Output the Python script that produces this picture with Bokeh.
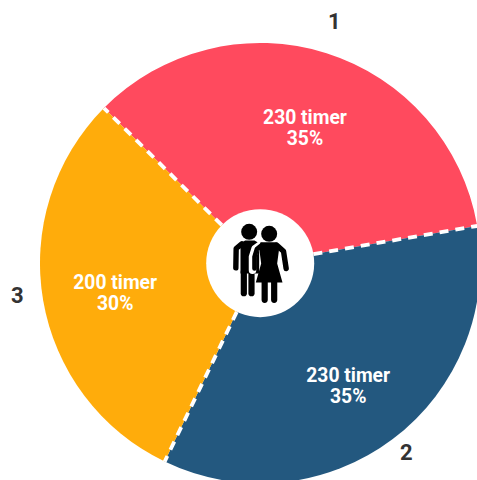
import math
from bokeh.plotting import figure
from bokeh.models import ColumnDataSource
from bokeh.core.properties import value
from bokeh.embed import file_html
from bokeh.resources import INLINE

categories = ["1", "2", "3"]
hours = [230, 230, 200]
value_labels = ["230 timer", "230 timer", "200 timer"]
percent_labels = ["35%", "35%", "30%"]
colors = ["#FF4A5E", "#23587F", "#FFAC0B"]

CX, CY = 259.7, 262.7
R_OUT, R_IN = 220.2, 54
START_DEG = 135.2
INNER_POS = [(44.8, 135.3), (88, -122.5), (-145, -30)]
OUTER_POS = [(74, 242.7), (146, -188.3), (-243, -31.3)]

total = sum(hours)
angles = []
a = START_DEG
for h in hours:
    b = a - h / total * 360
    angles.append((a, b))
    a = b

p = figure(width=477, height=480, x_range=(-CX, 477 - CX), y_range=(CY - 480, CY),
           output_backend="svg", toolbar_location=None, min_border=0,
           outline_line_color=None, background_fill_color="white", border_fill_color=None)
p.axis.visible = False
p.grid.visible = False

src = ColumnDataSource(dict(
    start=[math.radians(x[1]) for x in angles],
    end=[math.radians(x[0]) for x in angles],
    color=colors))
p.wedge(x=0, y=0, radius=R_OUT, start_angle="start", end_angle="end",
        fill_color="color", line_color=None, source=src)
p.scatter(x=[0], y=[0], size=2 * R_IN, marker="circle", fill_color="white", line_color=None)

# dashed separators
for (s, _e) in angles:
    c, n = math.cos(math.radians(s)), math.sin(math.radians(s))
    p.line([R_IN * c, R_OUT * c], [R_IN * n, R_OUT * n], line_color="white",
           line_width=3.8, line_dash="9 7")

for i in range(3):
    x, y = INNER_POS[i]
    p.text([x], [y + 10.5], text=[value_labels[i]], text_color="white",
           text_font=value("Roboto"), text_font_style="bold", text_font_size="19.3px",
           text_align="center", text_baseline="middle")
    p.text([x], [y - 10.5], text=[percent_labels[i]], text_color="white",
           text_font=value("Roboto"), text_font_style="bold", text_font_size="19.3px",
           text_align="center", text_baseline="middle")
    x, y = OUTER_POS[i]
    p.text([x], [y], text=[categories[i]], text_color="#333333",
           text_font=value("Roboto"), text_font_style="bold", text_font_size="22px",
           text_align="center", text_baseline="middle")

# people icon, traced in zoom-crop units
def zx(v): return 228 + v / 3 - CX
def zy(v): return CY - (218 + v / 3)
def poly(xs, ys, **kw):
    p.patch([zx(v) for v in xs], [zy(v) for v in ys], **kw)
def stroke(xs, ys, w, color="black", cap="round"):
    p.line([zx(v) for v in xs], [zy(v) for v in ys], line_width=w, line_color=color,
           line_cap=cap, line_join="round")

# man
p.scatter(x=[zx(62)], y=[zy(40)], size=16, marker="circle", fill_color="black", line_color=None)
poly([36, 50, 78, 92, 92, 78, 36], [74, 66, 66, 74, 165, 165, 165], fill_color="black", line_color=None)
stroke([40, 23, 22], [76, 90, 148], 5.4)
stroke([46, 46], [160, 224], 6.2)
stroke([69, 69], [160, 224], 6.2)
# woman outline and body
stroke([100, 80, 72, 72], [76, 90, 115, 155], 7.5, "white")
p.scatter(x=[zx(122)], y=[zy(46)], size=16, marker="circle", fill_color="black", line_color=None)
poly([96, 144, 152, 146, 162, 82, 98, 92],
     [71, 71, 90, 135, 192, 192, 135, 90], fill_color="black", line_color=None)
stroke([100, 85, 78, 78], [80, 92, 115, 150], 4.6)
stroke([145, 165, 173], [80, 98, 150], 5.4)
stroke([108.5, 108.5], [188, 244], 6.2)
stroke([137, 137], [188, 244], 6.2)

open("out.html", "w").write(file_html(p, INLINE))
